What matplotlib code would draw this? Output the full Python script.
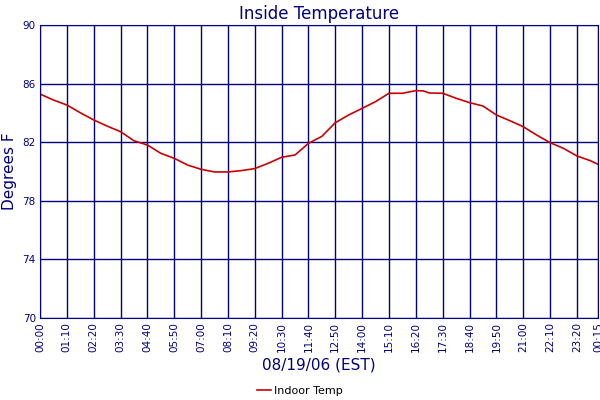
import matplotlib
matplotlib.use("Agg")
import matplotlib.pyplot as plt

minutes = [0, 35, 70, 105, 140, 175, 210, 245, 280, 315, 350, 385, 420, 455, 490, 525, 560, 595,
           630, 665, 700, 735, 770, 805, 840, 875, 910, 945, 980, 1000, 1015, 1050, 1085, 1120,
           1155, 1190, 1225, 1260, 1295, 1330, 1365, 1400, 1435, 1455]
temps = [85.29, 84.88, 84.54, 84.01, 83.52, 83.1, 82.72, 82.1, 81.81, 81.24, 80.9, 80.44, 80.15,
         79.97, 79.97, 80.06, 80.2, 80.56, 80.97, 81.13, 81.92, 82.4, 83.33, 83.86, 84.31, 84.77,
         85.34, 85.34, 85.52, 85.5, 85.36, 85.34, 85.0, 84.7, 84.47, 83.86, 83.47, 83.06, 82.49,
         81.97, 81.58, 81.06, 80.74, 80.49]
xtick_min = list(range(0, 1401, 70)) + [1455]
xtick_labels = ["00:00", "01:10", "02:20", "03:30", "04:40", "05:50", "07:00", "08:10", "09:20",
                "10:30", "11:40", "12:50", "14:00", "15:10", "16:20", "17:30", "18:40", "19:50",
                "21:00", "22:10", "23:20", "00:15"]
yticks = [70, 74, 78, 82, 86, 90]

navy = "#000080"
fig = plt.figure(figsize=(6, 4), dpi=100)
ax = fig.add_axes([40/600, 1-318/400, 558/600, 293/400])
ax.plot(minutes, temps, color="#cc0000", lw=1.2, label="Indoor Temp")
ax.set_xlim(0, 1455)
ax.set_ylim(70, 90)
ax.set_xticks(xtick_min)
ax.set_xticklabels(xtick_labels, rotation=90, color=navy, fontsize=7.5)
ax.set_yticks(yticks)
ax.set_yticklabels([str(v) for v in yticks], color=navy, fontsize=7.5)
ax.tick_params(length=0, pad=3)
ax.grid(True, color=navy, lw=1)
for s in ax.spines.values():
    s.set_color(navy)
ax.set_title("Inside Temperature", color=navy, fontsize=12, pad=4)
ax.set_ylabel("Degrees F", color=navy, fontsize=11, labelpad=4)
ax.set_xlabel("08/19/06 (EST)", color=navy, fontsize=11, labelpad=4)
fig.legend(loc="lower center", bbox_to_anchor=(0.5, -0.015), frameon=False, fontsize=8,
           handlelength=1.2, handletextpad=0.3)
fig.savefig("out.png", dpi=100, facecolor="white")
